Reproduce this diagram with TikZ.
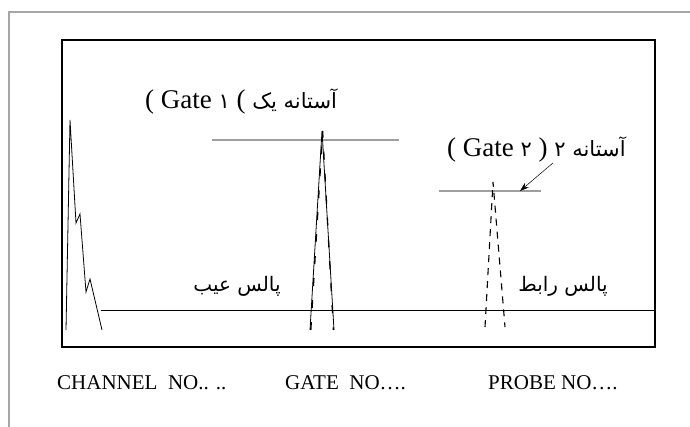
\documentclass[tikz,border=0pt]{standalone}
\usepackage{fontspec}
\setmainfont{Liberation Serif}
\newfontfamily\farsi[Script=Arabic]{DejaVu Sans}
\TeXXeTstate=1
\usepackage{tikz}
\usetikzlibrary{arrows.meta}

\tikzset{
  gateline/.style={gray!75, line width=2pt},
  pulse/.style={black, line width=0.8pt},
  probepulse/.style={black, line width=1.1pt, dash pattern=on 7pt off 6pt},
  chlabel/.style={font=\fontsize{21}{23}\selectfont, inner sep=0pt, anchor=west},
  falabel/.style={font=\farsi\fontsize{20}{22}\selectfont, inner sep=0pt},
  gatelabel/.style={font=\fontsize{27}{29}\selectfont, inner sep=0pt, anchor=west}
}
\newcommand{\fagate}{\farsi\fontsize{21}{23}\selectfont}

\begin{document}
\begin{tikzpicture}[x=1pt, y=-1pt]
\useasboundingbox (0,0) rectangle (690,427);
% outer frame
\draw[gray!70, line width=1.4pt] (690,12) -- (9,12) -- (9,427);
% screen
\draw[line width=2pt] (62,40) rectangle (655,347);
\coordinate (base0) at (101,310);
\coordinate (base1) at (655,310);
\draw[line width=0.8pt] (base0) -- (base1);
% defect pulse
\draw[pulse] (66,330) -- (70,120) -- (76,223) -- (80,214) -- (86,292) -- (90,279) -- (102,330);
% gate 1
\draw[gateline] (212,140) -- (399,140);
\draw[pulse] (310,330) -- (322,131) -- (334,330);
\draw[pulse, line width=1.3pt, dash pattern=on 8pt off 14pt] (310.8,330) -- (322.6,131) -- (333.4,330);
% gate 2
\coordinate (gateTwoTip) at (520,191);
\draw[gateline] (439,191) -- (541,191);
\draw[probepulse] (485,327) -- (493,182) -- (505,327);
% labels
\node[gatelabel] (gateOneLbl) at (145,102) {( Gate {\fagate ۱} ( {\fagate\beginR آستانه یک\endR}};
\node[gatelabel] (gateTwoLbl) at (447,150) {( Gate {\fagate ۲} ) {\fagate ۲ \beginR آستانه\endR}};
\draw[-{Stealth[length=9pt, width=6pt]}, line width=0.5pt] (gateTwoLbl.south -| 553,0) -- (gateTwoTip);
\node[falabel] (defectLbl) at (237,286) {\beginR پالس عیب\endR};
\node[falabel] (probeLbl) at (563,286) {\beginR پالس رابط\endR};
\node[chlabel] (chNo) at (57,383) {CHANNEL\ \ NO.. ..};
\node[chlabel] (gateNo) at (285,383) {GATE\ \ NO….};
\node[chlabel] (probeNo) at (488,383) {PROBE NO….};
\end{tikzpicture}
\end{document}
